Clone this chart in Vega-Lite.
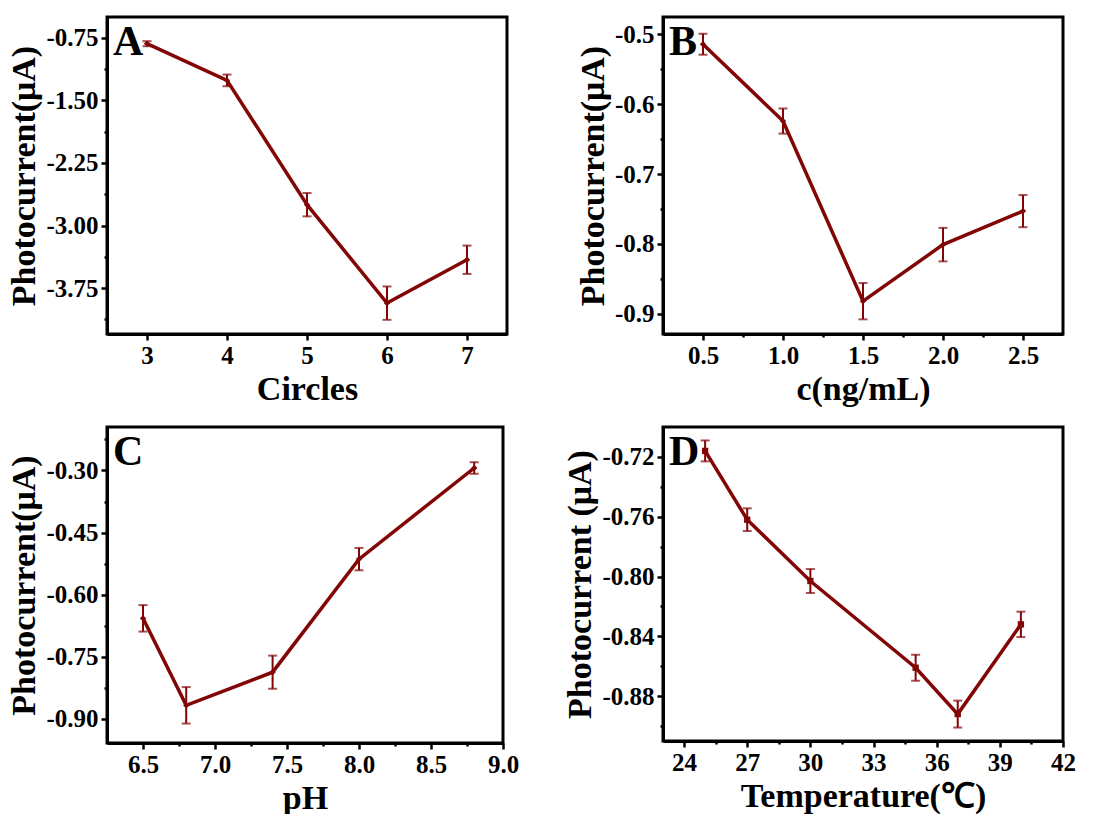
{
  "$schema": "https://vega.github.io/schema/vega-lite/v6.json",
  "background": "white",
  "padding": {"left": 6, "top": 15, "right": 5, "bottom": 5},
  "datasets": {
    "A": [
      {"x": 3, "v": -0.82, "e": 0.03},
      {"x": 4, "v": -1.26, "e": 0.07},
      {"x": 5, "v": -2.75, "e": 0.14},
      {"x": 6, "v": -3.93, "e": 0.2},
      {"x": 7, "v": -3.41, "e": 0.17}
    ],
    "B": [
      {"x": 0.5, "v": -0.514, "e": 0.015},
      {"x": 1.0, "v": -0.624, "e": 0.018},
      {"x": 1.5, "v": -0.882, "e": 0.026},
      {"x": 2.0, "v": -0.801, "e": 0.024},
      {"x": 2.5, "v": -0.753, "e": 0.023}
    ],
    "C": [
      {"x": 6.5, "v": -0.657, "e": 0.032},
      {"x": 6.8, "v": -0.867, "e": 0.044},
      {"x": 7.4, "v": -0.787, "e": 0.04},
      {"x": 8.0, "v": -0.514, "e": 0.027},
      {"x": 8.8, "v": -0.294, "e": 0.014}
    ],
    "D": [
      {"x": 25, "v": -0.716, "e": 0.007},
      {"x": 27, "v": -0.762, "e": 0.0076},
      {"x": 30, "v": -0.803, "e": 0.008},
      {"x": 35, "v": -0.861, "e": 0.0087},
      {"x": 37, "v": -0.892, "e": 0.009},
      {"x": 40, "v": -0.832, "e": 0.0085}
    ]
  },
  "columns": 2,
  "bounds": "flush",
  "spacing": {"row": 93, "column": 156},
  "concat": [
    {
      "width": 400, "height": 317,
      "title": {"text": "A"},
      "data": {"name": "A"},
      "encoding": {
        "x": {"field": "x", "type": "quantitative",
          "scale": {"domain": [2.5, 7.5], "nice": false, "zero": false},
          "axis": {"title": "Circles",
            "values": [3, 3.5, 4, 4.5, 5, 5.5, 6, 6.5, 7],
            "format": "d",
            "labelExpr": "datum.value % 1 == 0 ? format(datum.value, 'd') : ''",
            "tickSize": {"condition": {"test": "datum.value % 1 != 0", "value": 3}, "value": 6}}},
        "y": {"field": "v", "type": "quantitative",
          "scale": {"domain": [-4.3, -0.5], "nice": false, "zero": false},
          "axis": {"title": "Photocurrent(μA)",
            "values": [-0.75, -1.125, -1.5, -1.875, -2.25, -2.625, -3, -3.375, -3.75, -4.125],
            "format": ".2f",
            "labelExpr": "abs(datum.value/0.75 - round(datum.value/0.75)) < 0.01 ? replace(datum.label, '\u2212', '-') : ''",
            "tickSize": {"condition": {"test": "abs(datum.value/0.75 - round(datum.value/0.75)) > 0.01", "value": 3}, "value": 6}}}
      },
      "layer": [
        {"mark": {"type": "line", "color": "#820606", "strokeWidth": 3.5, "point": {"shape": "diamond", "size": 40, "color": "#820606", "filled": true}}},
        {"mark": {"type": "errorbar", "color": "#820606", "ticks": {"size": 9, "thickness": 2}, "rule": {"strokeWidth": 2}}, "encoding": {"yError": {"field": "e"}}}
      ]
    },
    {
      "width": 400, "height": 317,
      "title": {"text": "B"},
      "data": {"name": "B"},
      "encoding": {
        "x": {"field": "x", "type": "quantitative",
          "scale": {"domain": [0.25, 2.75], "nice": false, "zero": false},
          "axis": {"title": "c(ng/mL)",
            "values": [0.5, 0.75, 1.0, 1.25, 1.5, 1.75, 2.0, 2.25, 2.5],
            "format": ".1f",
            "labelExpr": "abs(datum.value*2 - round(datum.value*2)) < 0.01 ? format(datum.value, '.1f') : ''",
            "tickSize": {"condition": {"test": "abs(datum.value*2 - round(datum.value*2)) > 0.01", "value": 3}, "value": 6}}},
        "y": {"field": "v", "type": "quantitative",
          "scale": {"domain": [-0.929, -0.475], "nice": false, "zero": false},
          "axis": {"title": "Photocurrent(μA)",
            "values": [-0.5, -0.55, -0.6, -0.65, -0.7, -0.75, -0.8, -0.85, -0.9],
            "format": ".1f",
            "labelExpr": "abs(datum.value*10 - round(datum.value*10)) < 0.01 ? replace(datum.label, '\u2212', '-') : ''",
            "tickSize": {"condition": {"test": "abs(datum.value*10 - round(datum.value*10)) > 0.01", "value": 3}, "value": 6}}}
      },
      "layer": [
        {"mark": {"type": "line", "color": "#820606", "strokeWidth": 3.5, "point": {"shape": "diamond", "size": 40, "color": "#820606", "filled": true}}},
        {"mark": {"type": "errorbar", "color": "#820606", "ticks": {"size": 9, "thickness": 2}, "rule": {"strokeWidth": 2}}, "encoding": {"yError": {"field": "e"}}}
      ]
    },
    {
      "width": 396, "height": 316,
      "title": {"text": "C"},
      "data": {"name": "C"},
      "encoding": {
        "x": {"field": "x", "type": "quantitative",
          "scale": {"domain": [6.25, 9.0], "nice": false, "zero": false},
          "axis": {"title": "pH",
            "values": [6.5, 6.75, 7.0, 7.25, 7.5, 7.75, 8.0, 8.25, 8.5, 8.75, 9.0],
            "format": ".1f",
            "labelExpr": "abs(datum.value*2 - round(datum.value*2)) < 0.01 ? format(datum.value, '.1f') : ''",
            "tickSize": {"condition": {"test": "abs(datum.value*2 - round(datum.value*2)) > 0.01", "value": 3}, "value": 6}}},
        "y": {"field": "v", "type": "quantitative",
          "scale": {"domain": [-0.958, -0.195], "nice": false, "zero": false},
          "axis": {"title": "Photocurrent(μA)",
            "values": [-0.225, -0.3, -0.375, -0.45, -0.525, -0.6, -0.675, -0.75, -0.825, -0.9],
            "format": ".2f",
            "labelExpr": "abs(datum.value/0.15 - round(datum.value/0.15)) < 0.01 ? replace(datum.label, '\u2212', '-') : ''",
            "tickSize": {"condition": {"test": "abs(datum.value/0.15 - round(datum.value/0.15)) > 0.01", "value": 3}, "value": 6}}}
      },
      "layer": [
        {"mark": {"type": "line", "color": "#820606", "strokeWidth": 3.5, "point": {"shape": "diamond", "size": 40, "color": "#820606", "filled": true}}},
        {"mark": {"type": "errorbar", "color": "#820606", "ticks": {"size": 9, "thickness": 2}, "rule": {"strokeWidth": 2}}, "encoding": {"yError": {"field": "e"}}}
      ]
    },
    {
      "width": 400, "height": 314,
      "title": {"text": "D"},
      "data": {"name": "D"},
      "encoding": {
        "x": {"field": "x", "type": "quantitative",
          "scale": {"domain": [23, 42], "nice": false, "zero": false},
          "axis": {"title": "Temperature(℃)",
            "values": [24, 25.5, 27, 28.5, 30, 31.5, 33, 34.5, 36, 37.5, 39, 40.5, 42],
            "format": "d",
            "labelExpr": "datum.value % 3 == 0 ? format(datum.value, 'd') : ''",
            "tickSize": {"condition": {"test": "datum.value % 3 != 0", "value": 3}, "value": 6}}},
        "y": {"field": "v", "type": "quantitative",
          "scale": {"domain": [-0.91, -0.70], "nice": false, "zero": false},
          "axis": {"title": "Photocurrent (μA)",
            "values": [-0.72, -0.74, -0.76, -0.78, -0.8, -0.82, -0.84, -0.86, -0.88, -0.9],
            "format": ".2f",
            "labelExpr": "abs(datum.value/0.04 - round(datum.value/0.04)) < 0.01 ? replace(datum.label, '\u2212', '-') : ''",
            "tickSize": {"condition": {"test": "abs(datum.value/0.04 - round(datum.value/0.04)) > 0.01", "value": 3}, "value": 6}}}
      },
      "layer": [
        {"mark": {"type": "line", "color": "#820606", "strokeWidth": 3.5, "point": {"shape": "square", "size": 40, "color": "#820606", "filled": true}}},
        {"mark": {"type": "errorbar", "color": "#820606", "ticks": {"size": 9, "thickness": 2}, "rule": {"strokeWidth": 2}}, "encoding": {"yError": {"field": "e"}}}
      ]
    }
  ],
  "config": {
    "font": "Liberation Serif",
    "view": {"stroke": "black", "strokeWidth": 3},
    "axis": {
      "grid": false,
      "domainColor": "black", "domainWidth": 3,
      "tickColor": "black", "tickWidth": 2.5,
      "labelFont": "Liberation Serif", "labelFontSize": 25, "labelFontWeight": "bold", "labelColor": "black",
      "labelFlush": false, "labelOverlap": false, "labelPadding": 3,
      "titleFont": "Liberation Serif", "titleFontSize": 34, "titleFontWeight": "bold", "titleColor": "black",
      "titlePadding": 4
    },
    "title": {
      "anchor": "start", "frame": "group", "orient": "top", "offset": -47, "dx": 6,
      "baseline": "alphabetic", "fontSize": 42, "font": "Liberation Serif", "fontWeight": "bold", "color": "black"
    }
  }
}
